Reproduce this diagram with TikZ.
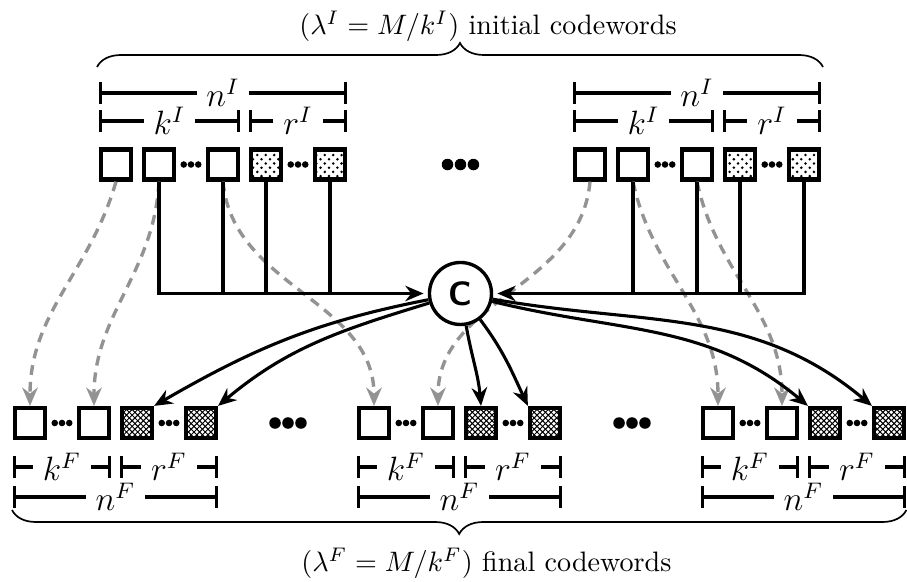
\documentclass[tikz,border=0pt]{standalone}
\usepackage{tikz}
\usetikzlibrary{patterns, arrows.meta, decorations.pathreplacing}

\pgfdeclarepatternformonly{xhatch}{\pgfqpoint{-0.5pt}{-0.5pt}}{\pgfqpoint{2.5pt}{2.5pt}}{\pgfqpoint{2pt}{2pt}}{
  \pgfsetlinewidth{0.35pt}
  \pgfpathmoveto{\pgfqpoint{-0.1pt}{-0.1pt}}\pgfpathlineto{\pgfqpoint{2.1pt}{2.1pt}}
  \pgfpathmoveto{\pgfqpoint{-0.1pt}{2.1pt}}\pgfpathlineto{\pgfqpoint{2.1pt}{-0.1pt}}
  \pgfusepath{stroke}}

\tikzset{
  sym/.style={draw, line width=1.5pt, minimum size=0.375cm, inner sep=0pt},
  psymI/.style={sym, pattern=crosshatch dots},
  psymF/.style={sym, pattern=xhatch},
  dim/.style={line width=1.1pt, {Bar[width=7.8pt]}-{Bar[width=7.8pt]}},
  dimlbl/.style={fill=white, inner xsep=3.5pt, inner ysep=0pt, font=\large},
  wire/.style={line width=1.1pt},
  feed/.style={line width=1.1pt, -{Stealth[length=6.5pt,width=5.5pt]}},
  move/.style={line width=1.2pt, gray!85, dash pattern=on 3.5pt off 2.5pt, -{Stealth[length=6.5pt,width=5.5pt]}},
  brc/.style={line width=0.6pt, decorate, decoration={brace, amplitude=0.3cm}},
  ttl/.style={font=\normalsize},
}

\begin{document}
\begin{tikzpicture}
\useasboundingbox (0,0) rectangle (11.3375,7.2625);

% initial codewords
\node[sym] (ia1) at (1.45,5.206) {};
\node[sym] (ia2) at (1.9875,5.206) {};
\node[sym] (ia3) at (2.7875,5.206) {};
\node[psymI] (ia4) at (3.325,5.206) {};
\node[psymI] (ia5) at (4.125,5.206) {};
\fill (2.297,5.206) circle (0.041) (2.3875,5.206) circle (0.041) (2.478,5.206) circle (0.041);
\fill (3.6345,5.206) circle (0.041) (3.725,5.206) circle (0.041) (3.8155,5.206) circle (0.041);

\node[sym] (ib1) at (7.375,5.206) {};
\node[sym] (ib2) at (7.9125,5.206) {};
\node[sym] (ib3) at (8.7125,5.206) {};
\node[psymI] (ib4) at (9.25,5.206) {};
\node[psymI] (ib5) at (10.05,5.206) {};
\fill (8.222,5.206) circle (0.041) (8.3125,5.206) circle (0.041) (8.403,5.206) circle (0.041);
\fill (9.5595,5.206) circle (0.041) (9.65,5.206) circle (0.041) (9.7405,5.206) circle (0.041);

\fill (5.594,5.206) circle (0.072) (5.756,5.206) circle (0.072) (5.918,5.206) circle (0.072);

\draw[dim] (ia1.west |- 0,6.1) -- (ia5.east |- 0,6.1) node[midway, dimlbl] {$n^I$};
\draw[dim] (ia1.west |- 0,5.75) -- (ia3.east |- 0,5.75) node[midway, dimlbl] {$k^I$};
\draw[dim] (ia4.west |- 0,5.75) -- (ia5.east |- 0,5.75) node[midway, dimlbl] {$r^I$};
\draw[dim] (ib1.west |- 0,6.1) -- (ib5.east |- 0,6.1) node[midway, dimlbl] {$n^I$};
\draw[dim] (ib1.west |- 0,5.75) -- (ib3.east |- 0,5.75) node[midway, dimlbl] {$k^I$};
\draw[dim] (ib4.west |- 0,5.75) -- (ib5.east |- 0,5.75) node[midway, dimlbl] {$r^I$};

% final codewords
\node[sym] (fa1) at (0.375,1.975) {};
\node[sym] (fa2) at (1.175,1.975) {};
\node[psymF] (fa3) at (1.7125,1.975) {};
\node[psymF] (fa4) at (2.5125,1.975) {};
\fill (0.6845,1.975) circle (0.041) (0.775,1.975) circle (0.041) (0.8655,1.975) circle (0.041);
\fill (2.022,1.975) circle (0.041) (2.1125,1.975) circle (0.041) (2.203,1.975) circle (0.041);

\node[sym] (fb1) at (4.675,1.975) {};
\node[sym] (fb2) at (5.475,1.975) {};
\node[psymF] (fb3) at (6.0125,1.975) {};
\node[psymF] (fb4) at (6.8125,1.975) {};
\fill (4.9845,1.975) circle (0.041) (5.075,1.975) circle (0.041) (5.1655,1.975) circle (0.041);
\fill (6.322,1.975) circle (0.041) (6.4125,1.975) circle (0.041) (6.503,1.975) circle (0.041);

\node[sym] (fc1) at (8.975,1.975) {};
\node[sym] (fc2) at (9.775,1.975) {};
\node[psymF] (fc3) at (10.3125,1.975) {};
\node[psymF] (fc4) at (11.1125,1.975) {};
\fill (9.2845,1.975) circle (0.041) (9.375,1.975) circle (0.041) (9.4655,1.975) circle (0.041);
\fill (10.622,1.975) circle (0.041) (10.7125,1.975) circle (0.041) (10.803,1.975) circle (0.041);

\fill (3.438,1.975) circle (0.072) (3.6,1.975) circle (0.072) (3.762,1.975) circle (0.072);
\fill (7.738,1.975) circle (0.072) (7.9,1.975) circle (0.072) (8.062,1.975) circle (0.072);

\draw[dim] (fa1.west |- 0,1.425) -- (fa2.east |- 0,1.425) node[midway, dimlbl] {$k^F$};
\draw[dim] (fa3.west |- 0,1.425) -- (fa4.east |- 0,1.425) node[midway, dimlbl] {$r^F$};
\draw[dim] (fa1.west |- 0,1.05) -- (fa4.east |- 0,1.05) node[midway, dimlbl] {$n^F$};
\draw[dim] (fb1.west |- 0,1.425) -- (fb2.east |- 0,1.425) node[midway, dimlbl] {$k^F$};
\draw[dim] (fb3.west |- 0,1.425) -- (fb4.east |- 0,1.425) node[midway, dimlbl] {$r^F$};
\draw[dim] (fb1.west |- 0,1.05) -- (fb4.east |- 0,1.05) node[midway, dimlbl] {$n^F$};
\draw[dim] (fc1.west |- 0,1.425) -- (fc2.east |- 0,1.425) node[midway, dimlbl] {$k^F$};
\draw[dim] (fc3.west |- 0,1.425) -- (fc4.east |- 0,1.425) node[midway, dimlbl] {$r^F$};
\draw[dim] (fc1.west |- 0,1.05) -- (fc4.east |- 0,1.05) node[midway, dimlbl] {$n^F$};

% data symbols moved to the final codewords
\draw[move] (ia1.south) to[out=-106, in=90] (fa1.north);
\draw[move] (ia2.south) to[out=-93, in=90] (fa2.north);
\draw[move] (ia3.south) to[out=-85, in=90] (fb1.north);
\draw[move] (ib1.south) to[out=-95, in=90] (fb2.north);
\draw[move] (ib2.south) to[out=-78, in=90] (fc1.north);
\draw[move] (ib3.south) to[out=-78, in=90] (fc2.north);

\node[circle, draw, line width=1.2pt, fill=white, minimum size=0.775cm, inner sep=0pt, font=\sffamily\bfseries\large] (C) at (5.756,3.594) {C};

\draw[feed, shorten >=1.5pt] (ia2.south) |- (C.west);
\draw[wire] (ia3.south) -- (ia3.south |- C.west);
\draw[wire] (ia4.south) -- (ia4.south |- C.west);
\draw[wire] (ia5.south) -- (ia5.south |- C.west);
\draw[feed, shorten >=1.5pt] (ib5.south) |- (C.east);
\draw[wire] (ib2.south) -- (ib2.south |- C.east);
\draw[wire] (ib3.south) -- (ib3.south |- C.east);
\draw[wire] (ib4.south) -- (ib4.south |- C.east);

% parity symbols from the encoder
\draw[feed] (C) to[out=191, in=30] (fa3.north east);
\draw[feed] (C) to[out=197, in=40] (fa4.north east);
\draw[feed] (C) to[out=-80, in=95] (fb3.north);
\draw[feed] (C) to[out=-53, in=115] (fb4.north west);
\draw[feed] (C) to[out=-14, in=140] (fc3.north west);
\draw[feed] (C) to[out=-10, in=140] (fc4.north west);

\draw[brc] (1.2125,6.425) -- (10.2875,6.425);
\node[ttl] (tI) at (6.1,6.93) {$(\lambda^I = M/k^I)$ initial codewords};
\draw[brc] (11.33,0.8875) -- (0.15,0.8875);
\node[ttl] (tF) at (6.08,0.22) {$(\lambda^F = M/k^F)$ final codewords};

\end{tikzpicture}
\end{document}
